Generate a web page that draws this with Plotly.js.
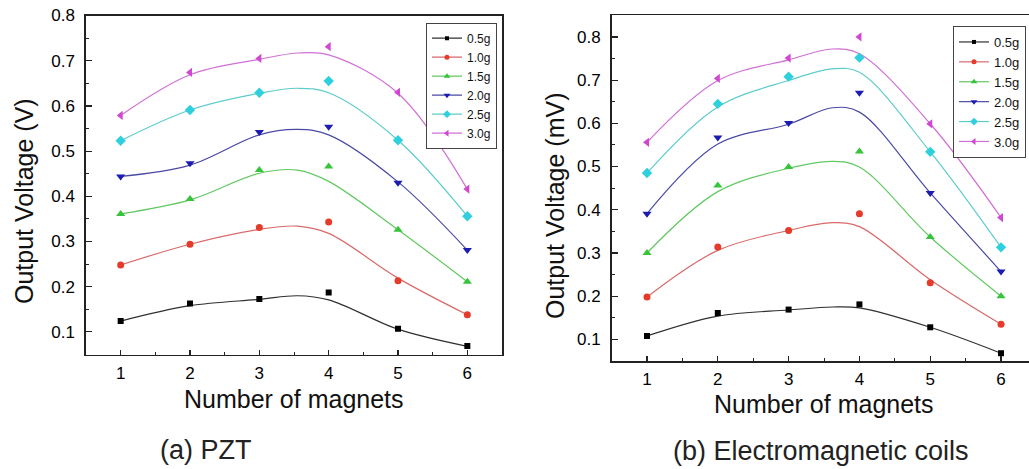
<!DOCTYPE html>
<html>
<head>
<meta charset="utf-8">
<script src="https://cdn.plot.ly/plotly-3.0.1.min.js"></script>
<style>
html,body{margin:0;padding:0;background:#fff;overflow:hidden;}
#chart{width:1029px;height:469px;}
</style>
</head>
<body>
<div id="chart"></div>
<script>
// ---- data ----
var magnets = [1, 2, 3, 4, 5, 6];
var seriesNames = ['0.5g', '1.0g', '1.5g', '2.0g', '2.5g', '3.0g'];

// (a) PZT, measured points (V)
var pzt05 = [0.124, 0.163, 0.173, 0.187, 0.107, 0.069];
var pzt10 = [0.248, 0.294, 0.331, 0.343, 0.213, 0.138];
var pzt15 = [0.361, 0.394, 0.458, 0.466, 0.326, 0.211];
var pzt20 = [0.444, 0.473, 0.542, 0.554, 0.430, 0.281];
var pzt25 = [0.523, 0.591, 0.629, 0.655, 0.524, 0.356];
var pzt30 = [0.579, 0.674, 0.705, 0.731, 0.630, 0.416];

// (a) PZT, fitted curve
var pztFitX = [1, 2, 3, 3.55, 4, 5, 6];
var pztFit05 = [0.124, 0.158, 0.172, 0.180, 0.171, 0.106, 0.068];
var pztFit10 = [0.248, 0.294, 0.327, 0.334, 0.318, 0.219, 0.138];
var pztFit15 = [0.361, 0.392, 0.451, 0.458, 0.433, 0.326, 0.211];
var pztFit20 = [0.444, 0.469, 0.536, 0.548, 0.536, 0.432, 0.281];
var pztFit25 = [0.523, 0.591, 0.628, 0.639, 0.629, 0.524, 0.356];
var pztFit30 = [0.579, 0.669, 0.703, 0.717, 0.713, 0.628, 0.416];

// (b) Electromagnetic coils, measured points (mV)
var emc05 = [0.108, 0.161, 0.169, 0.181, 0.128, 0.068];
var emc10 = [0.198, 0.314, 0.352, 0.391, 0.231, 0.135];
var emc15 = [0.300, 0.456, 0.499, 0.535, 0.337, 0.200];
var emc20 = [0.391, 0.567, 0.601, 0.671, 0.439, 0.257];
var emc25 = [0.485, 0.645, 0.708, 0.752, 0.534, 0.313];
var emc30 = [0.556, 0.704, 0.751, 0.800, 0.599, 0.382];

// (b) fitted curve
var emcFitX = [1, 2, 3, 3.62, 4, 5, 6];
var emcFit05 = [0.108, 0.154, 0.168, 0.175, 0.173, 0.128, 0.068];
var emcFit10 = [0.198, 0.306, 0.352, 0.370, 0.361, 0.238, 0.135];
var emcFit15 = [0.300, 0.442, 0.496, 0.512, 0.499, 0.337, 0.200];
var emcFit20 = [0.391, 0.552, 0.598, 0.636, 0.626, 0.439, 0.257];
var emcFit25 = [0.485, 0.638, 0.699, 0.726, 0.718, 0.534, 0.313];
var emcFit30 = [0.556, 0.699, 0.747, 0.772, 0.761, 0.599, 0.382];

var xTicks = [1, 2, 3, 4, 5, 6];
var yTicks = [0.1, 0.2, 0.3, 0.4, 0.5, 0.6, 0.7, 0.8];
var yTickText = ['0.1', '0.2', '0.3', '0.4', '0.5', '0.6', '0.7', '0.8'];

// ---- styles ----
var markerColors = ['#000000', '#e63a2a', '#35c43a', '#1c1cb0', '#2fd0de', '#d048d0'];
var lineColors = ['#303030', '#d86a6a', '#62c862', '#4a4aa6', '#5ccccc', '#d070d6'];
var symbols = ['square', 'circle', 'triangle-up', 'triangle-down', 'diamond', 'triangle-left'];
var sizes = [6, 7, 8, 8, 8, 8];

var FONT = 'Liberation Sans, Arial, sans-serif';

var pztPts = [pzt05, pzt10, pzt15, pzt20, pzt25, pzt30];
var pztFits = [pztFit05, pztFit10, pztFit15, pztFit20, pztFit25, pztFit30];
var emcPts = [emc05, emc10, emc15, emc20, emc25, emc30];
var emcFits = [emcFit05, emcFit10, emcFit15, emcFit20, emcFit25, emcFit30];

var traces = [];
function addPanel(pts, fits, fitX, xa, ya, leg) {
  for (var i = 0; i < 6; i++) {
    traces.push({
      x: fitX, y: fits[i], xaxis: xa, yaxis: ya, type: 'scatter', mode: 'lines',
      line: {color: lineColors[i], width: 1.2, shape: 'spline', smoothing: 1},
      showlegend: false, hoverinfo: 'skip'
    });
  }
  for (var j = 0; j < 6; j++) {
    traces.push({
      x: magnets, y: pts[j], xaxis: xa, yaxis: ya, type: 'scatter', mode: 'markers',
      marker: {symbol: symbols[j], size: sizes[j], color: markerColors[j], line: {width: 0}},
      showlegend: false
    });
  }
  for (var k = 0; k < 6; k++) {
    traces.push({
      x: [null], y: [null], xaxis: xa, yaxis: ya, type: 'scatter', mode: 'lines+markers',
      name: seriesNames[k], legend: leg,
      line: {color: lineColors[k], width: 1.2},
      marker: {symbol: symbols[k], size: sizes[k] - 2, color: markerColors[k], line: {width: 0}}
    });
  }
}
addPanel(pztPts, pztFits, pztFitX, 'x', 'y', 'legend');
addPanel(emcPts, emcFits, emcFitX, 'x2', 'y2', 'legend2');

var W = 1029, H = 469;
function px(v) { return v / W; }
function py(v) { return (H - v) / H; }

function xAxis(domain, range, anchor) {
  return {
    domain: domain, range: range, anchor: anchor,
    tickmode: 'array', tickvals: xTicks, ticktext: xTicks.map(String),
    ticks: 'inside', ticklen: 5, tickwidth: 1.2, tickcolor: '#222',
    minor: {dtick: 0.5, tick0: 0.5, ticks: 'inside', ticklen: 3, tickwidth: 1, tickcolor: '#222'},
    showline: true, linecolor: '#222', linewidth: 1.6, mirror: true,
    showgrid: false, zeroline: false, ticklabelstandoff: 2,
    tickfont: {family: FONT, size: 17, color: '#000'}
  };
}
function yAxis(domain, range, anchor, mirror) {
  return {
    domain: domain, range: range, anchor: anchor,
    tickmode: 'array', tickvals: yTicks, ticktext: yTickText,
    ticks: 'inside', ticklen: 6, tickwidth: 1.2, tickcolor: '#222',
    minor: {dtick: 0.05, tick0: 0.05, ticks: 'inside', ticklen: 3, tickwidth: 1, tickcolor: '#222'},
    showline: true, linecolor: '#222', linewidth: 1.6, mirror: mirror,
    showgrid: false, zeroline: false, ticklabelstandoff: 6,
    tickfont: {family: FONT, size: 17, color: '#000'}
  };
}

var layout = {
  width: W, height: H,
  margin: {l: 0, r: 0, t: 0, b: 0},
  paper_bgcolor: '#fff', plot_bgcolor: '#fff',
  showlegend: true,
  xaxis: xAxis([px(86), px(502)], [0.5, 6.5], 'y'),
  yaxis: yAxis([py(354.5), py(15.5)], [0.05, 0.8], 'x', true),
  xaxis2: xAxis([px(611.6), 1], [0.5, 6.395], 'y2'),
  yaxis2: yAxis([py(361), py(15.3)], [0.05, 0.85], 'x2', false),
  legend: {
    x: px(497), xanchor: 'right', y: py(22.7), yanchor: 'top',
    bgcolor: '#fff', bordercolor: '#444', borderwidth: 1,
    font: {family: FONT, size: 12, color: '#111'},
    itemwidth: 30, tracegroupgap: 0
  },
  legend2: {
    x: px(1026), xanchor: 'right', y: py(26), yanchor: 'top',
    bgcolor: '#fff', bordercolor: '#444', borderwidth: 1,
    font: {family: FONT, size: 13, color: '#111'},
    itemwidth: 30, tracegroupgap: 0
  },
  annotations: [
    {text: 'Number of magnets', xref: 'x', x: 3.5, yref: 'paper', y: py(399),
     xanchor: 'center', yanchor: 'middle', showarrow: false,
     font: {family: FONT, size: 25, color: '#111'}},
    {text: 'Number of magnets', xref: 'x2', x: 3.5, yref: 'paper', y: py(404),
     xanchor: 'center', yanchor: 'middle', showarrow: false,
     font: {family: FONT, size: 25, color: '#111'}},
    {text: 'Output Voltage (V)', xref: 'paper', x: px(24), yref: 'paper', y: py(201),
     xanchor: 'center', yanchor: 'middle', textangle: -90, showarrow: false,
     font: {family: FONT, size: 25, color: '#111'}},
    {text: 'Output Voltage (mV)', xref: 'paper', x: px(555), yref: 'paper', y: py(206),
     xanchor: 'center', yanchor: 'middle', textangle: -90, showarrow: false,
     font: {family: FONT, size: 25, color: '#111'}},
    {text: '(a) PZT', xref: 'paper', x: px(205.5), yref: 'paper', y: py(450),
     xanchor: 'center', yanchor: 'middle', showarrow: false,
     font: {family: FONT, size: 27, color: '#222'}},
    {text: '(b) Electromagnetic coils', xref: 'paper', x: px(820.5), yref: 'paper', y: py(450.5),
     xanchor: 'center', yanchor: 'middle', showarrow: false,
     font: {family: FONT, size: 27, color: '#222'}}
  ]
};

Plotly.newPlot('chart', traces, layout, {displayModeBar: false, staticPlot: true});
</script>
</body>
</html>
